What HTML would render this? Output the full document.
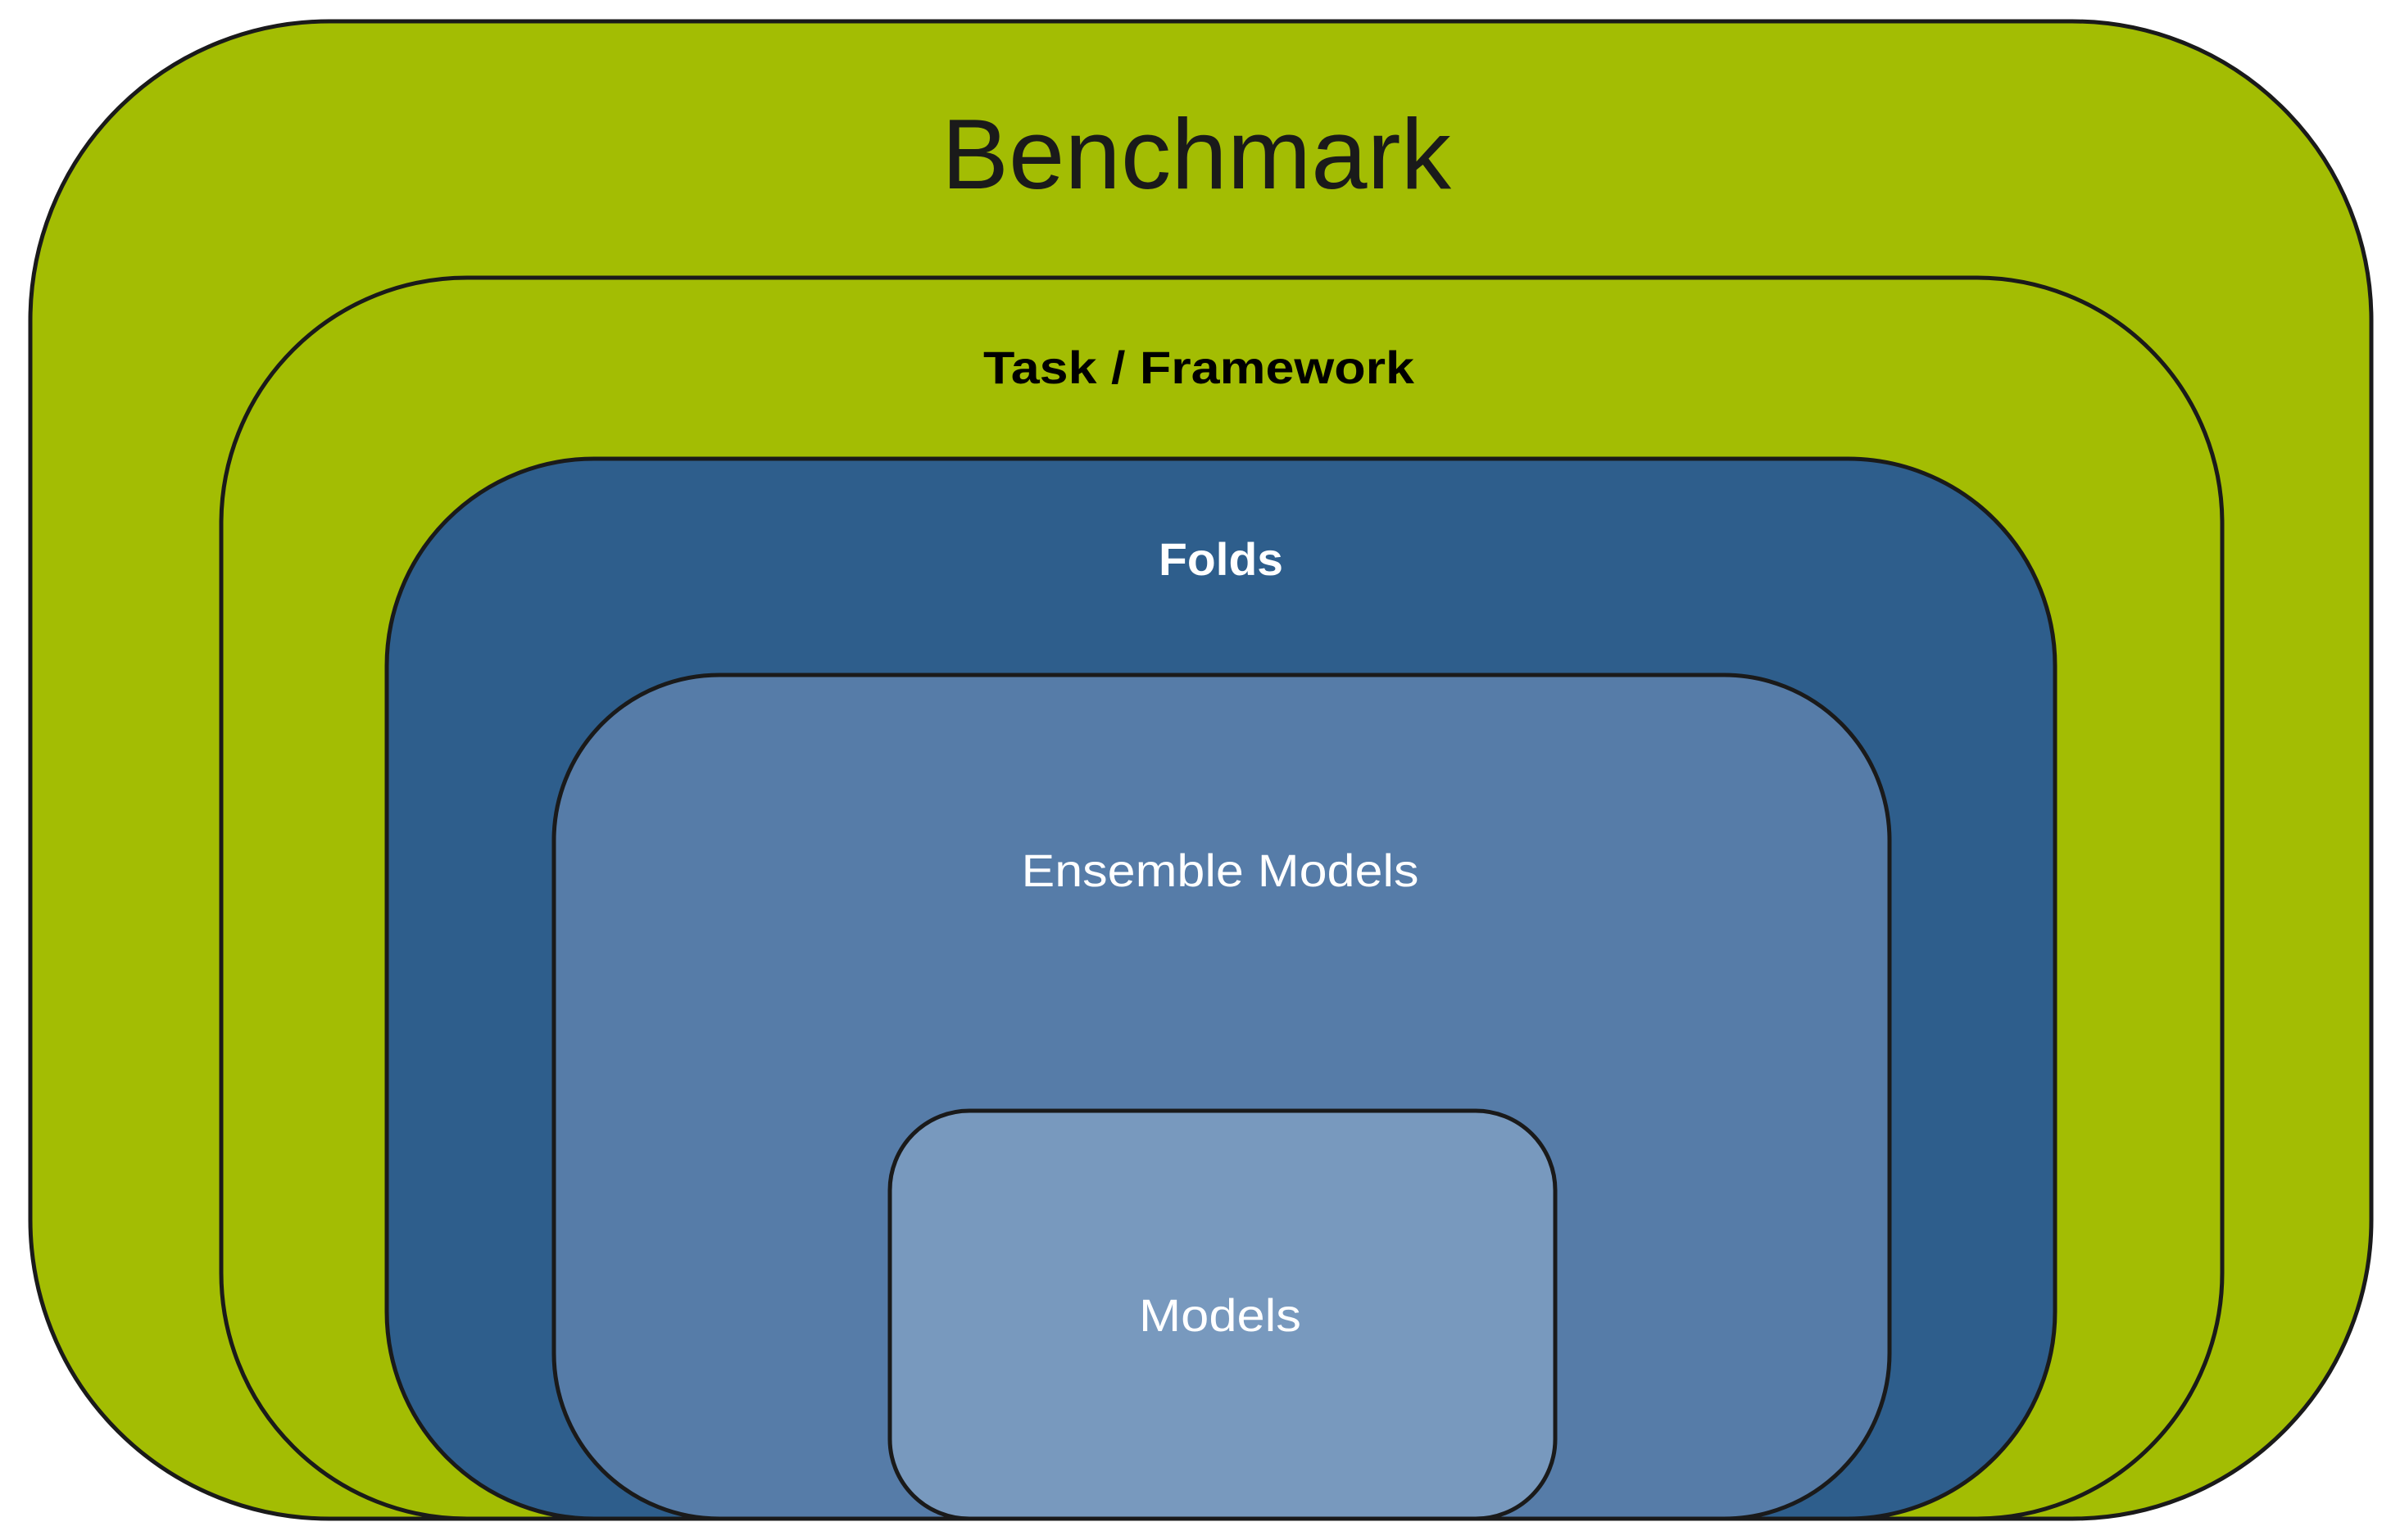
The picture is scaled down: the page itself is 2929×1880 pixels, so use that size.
<!DOCTYPE html>
<html><head><meta charset="utf-8"><style>html,body{margin:0;padding:0;background:#fff}svg{display:block}</style></head>
<body>
<svg width="2929" height="1880" viewBox="0 0 2929 1880" xmlns="http://www.w3.org/2000/svg" font-family="Liberation Sans, sans-serif">
<g stroke="#1a1a1a" stroke-width="5">
<rect x="37" y="26" width="2857" height="1828" rx="365" ry="365" fill="#a3bd03"/>
<rect x="270" y="339" width="2442" height="1515" rx="300" ry="300" fill="#a3bd03"/>
<rect x="472" y="560" width="2036" height="1294" rx="253" ry="253" fill="#2e5e8c"/>
<rect x="676" y="824" width="1630" height="1030" rx="202" ry="202" fill="#567ca8"/>
<rect x="1086" y="1356" width="812" height="498" rx="97" ry="97" fill="#7899be"/>
</g>
<text x="1460" y="230" font-size="122" fill="#1a1a1a" text-anchor="middle" textLength="622" lengthAdjust="spacingAndGlyphs">Benchmark</text>
<text x="1463" y="468" font-size="56" font-weight="bold" fill="#000" text-anchor="middle" textLength="526" lengthAdjust="spacingAndGlyphs">Task / Framework</text>
<text x="1490" y="702" font-size="56" font-weight="bold" fill="#fff" text-anchor="middle" textLength="152" lengthAdjust="spacingAndGlyphs">Folds</text>
<text x="1489" y="1082" font-size="56" fill="#fff" text-anchor="middle" textLength="485" lengthAdjust="spacingAndGlyphs">Ensemble Models</text>
<text x="1489" y="1625" font-size="56" fill="#fff" text-anchor="middle" textLength="198" lengthAdjust="spacingAndGlyphs">Models</text>
</svg>
</body></html>
